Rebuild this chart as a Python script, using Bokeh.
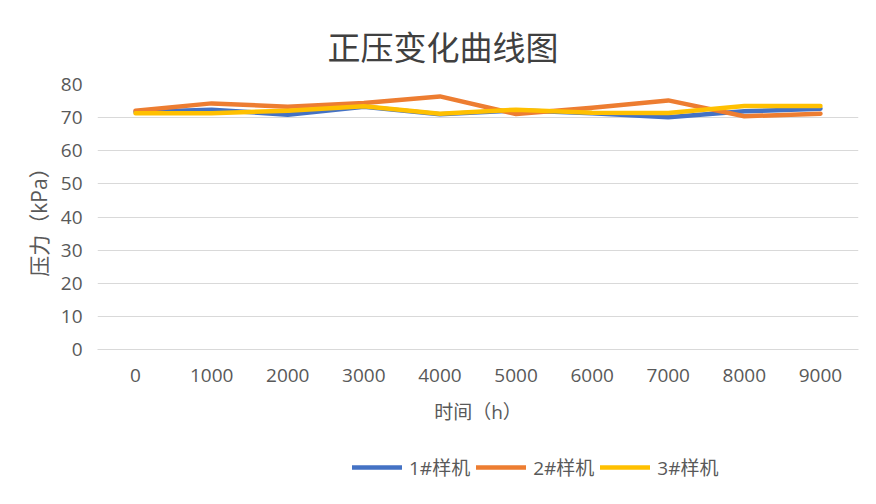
from bokeh.plotting import figure
from bokeh.models import Legend, LegendItem, FactorRange, Range1d
from bokeh.layouts import column
from bokeh.embed import file_html
from bokeh.resources import INLINE

hours = ["0", "1000", "2000", "3000", "4000", "5000", "6000", "7000", "8000", "9000"]
s1 = [71.7, 72.4, 70.9, 73.3, 71.0, 72.2, 71.3, 70.1, 71.9, 72.7]
s2 = [72.1, 74.3, 73.3, 74.4, 76.4, 71.1, 73.0, 75.2, 70.4, 71.2]
s3 = [71.3, 71.3, 72.1, 73.4, 71.2, 72.4, 71.5, 71.4, 73.5, 73.5]
names = ["1#样机", "2#样机", "3#样机"]
colors = ["#4472C4", "#ED7D31", "#FFC000"]
yticks = [0, 10, 20, 30, 40, 50, 60, 70, 80]

FONT = "'Open Sans', 'Noto Sans CJK SC'"
CJK = "'Noto Sans CJK SC'"
GRAY = "#595959"

p = figure(frame_width=761, frame_height=265, x_range=FactorRange(*hours), y_range=Range1d(0, 80),
           output_backend="svg", toolbar_location=None,
           min_border_left=97, min_border_right=2, min_border_top=84, min_border_bottom=91)
p.outline_line_color = None
p.background_fill_color = "white"
p.border_fill_color = "white"

p.title.text = "正压变化曲线图"
p.title.align = "left"
p.title.offset = 230
p.title.text_font = CJK
p.title.text_font_size = "33px"
p.title.text_font_style = "normal"
p.title.text_color = "#404040"
p.title.standoff = 30

p.xaxis.axis_line_color = "#D9D9D9"
p.xaxis.major_tick_line_color = None
p.xaxis.minor_tick_line_color = None
p.xaxis.major_label_text_font = FONT
p.xaxis.major_label_text_font_size = "19px"
p.xaxis.major_label_text_color = GRAY
p.xaxis.major_label_standoff = 13
p.xaxis.axis_label = "时间（h）"
p.xaxis.axis_label_text_font = FONT
p.xaxis.axis_label_text_font_size = "19px"
p.xaxis.axis_label_text_font_style = "normal"
p.xaxis.axis_label_text_color = GRAY
p.xaxis.axis_label_standoff = 14
p.xgrid.grid_line_color = None

p.yaxis.ticker = yticks
p.yaxis.axis_line_color = None
p.yaxis.major_tick_line_color = None
p.yaxis.minor_tick_line_color = None
p.yaxis.major_label_text_font = FONT
p.yaxis.major_label_text_font_size = "19px"
p.yaxis.major_label_text_color = GRAY
p.yaxis.major_label_standoff = 9
p.yaxis.axis_label = "压力（kPa）"
p.yaxis.axis_label_text_font = FONT
p.yaxis.axis_label_text_font_size = "21px"
p.yaxis.axis_label_text_font_style = "normal"
p.yaxis.axis_label_text_color = GRAY
p.yaxis.axis_label_standoff = 5
p.ygrid.ticker = yticks
p.ygrid.grid_line_color = "#D9D9D9"
p.ygrid.grid_line_width = 1

for ys, c in zip([s1, s2, s3], colors):
    p.line(hours, ys, line_color=c, line_width=4.5, line_cap="round", line_join="round")

# legend strip: a second, axis-less figure whose frame holds the legend
p2 = figure(width=860, height=56, x_range=FactorRange(*hours), y_range=Range1d(0, 1),
            output_backend="svg", toolbar_location=None,
            x_axis_location=None, y_axis_location=None,
            min_border_left=0, min_border_right=0, min_border_top=0, min_border_bottom=0)
p2.outline_line_color = None
p2.grid.grid_line_color = None
p2.background_fill_color = "white"
p2.border_fill_color = "white"

leg_renderers = []
for ys, c in zip([s1, s2, s3], colors):
    # same series, outside this strip's 0..1 range, so only the legend keys show
    r = p2.line(hours, ys, line_color=c, line_width=4.5, line_cap="round", line_join="round")
    leg_renderers.append(r)

legend = Legend(items=[LegendItem(label=n, renderers=[r]) for n, r in zip(names, leg_renderers)],
                orientation="horizontal", location=(255, 15),
                glyph_width=50, glyph_height=20, label_height=20, label_standoff=7, spacing=6,
                padding=0, margin=0, border_line_color=None, background_fill_alpha=0,
                label_text_font=FONT, label_text_font_size="19px", label_text_color=GRAY)
p2.add_layout(legend, "center")

layout = column(p, p2, spacing=0)
open("out.html", "w").write(file_html(layout, INLINE))
